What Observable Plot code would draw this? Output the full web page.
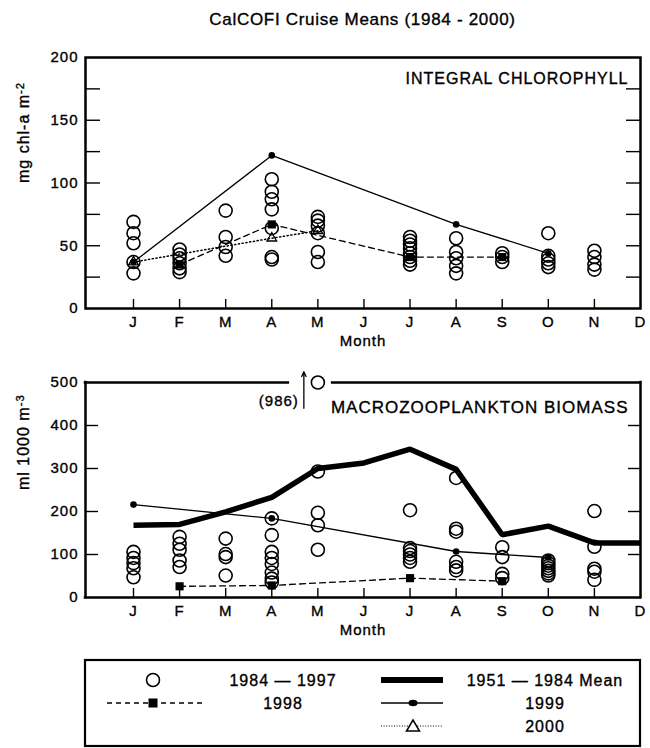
<!DOCTYPE html>
<html>
<head>
<meta charset="utf-8">
<script src="https://cdn.jsdelivr.net/npm/d3@7"></script>
<script src="https://cdn.jsdelivr.net/npm/@observablehq/plot@0.6"></script>
<style>
  body { margin: 0; background: #fff; }
  #page { position: relative; width: 650px; height: 748px; overflow: hidden; background: #fff;
          font-family: "Liberation Sans", Arial, Helvetica, sans-serif; color: #000; }
  #chl, #zoo, #legend { position: absolute; left: 0; }
  #chl { top: 0; }
  #zoo { top: 350px; }
  #legend { top: 640px; }
  #title { position: absolute; left: 85px; width: 555px; top: 10px; line-height: 20px;
           text-align: center; font-size: 17px; letter-spacing: 0.7px; z-index: 2;
           -webkit-text-stroke: 0.35px #000; }
  #page svg text { stroke: #000; stroke-width: 0.35px; }
</style>
</head>
<body>
<div id="page">
  <div id="chl"></div>
  <div id="zoo"></div>
  <div id="legend"></div>
  <div id="title">CalCOFI Cruise Means (1984 - 2000)</div>
</div>
<script>
// ---- month axis ----
const monthLetters = ["J", "F", "M", "A", "M", "J", "J", "A", "S", "O", "N", "D"];
const monthNumbers = d3.range(1, 13);

// ---- integral chlorophyll (mg chl-a m-2) ----
const chlCruiseMonths = [1, 2, 3, 4, 5, 7, 8, 9, 10, 11];
const chl1984to1997 = [
  [69, 60, 52, 37, 28],
  [47, 43, 40, 36, 32, 29],
  [78, 57, 49, 42],
  [103, 93, 87, 79, 64, 41, 39],
  [73, 70, 66, 60, 45, 37],
  [57, 54, 51, 48, 44, 41, 38, 35],
  [56, 45, 40, 34, 28],
  [44, 41, 37],
  [60, 42, 39, 36, 33],
  [46, 41, 35, 31]
];
const chl1998Months = [2, 4, 7, 9];
const chl1998 = [35, 67, 41, 41];
const chl1999Months = [1, 4, 8, 10];
const chl1999 = [37, 122, 67, 44];
const chl2000Months = [1, 4, 5];
const chl2000 = [37, 56, 62];

// ---- macrozooplankton biomass (ml 1000 m-3) ----
const zooCruiseMonths = [1, 2, 3, 4, 5, 7, 8, 9, 10, 11];
const zoo1984to1997 = [
  [106, 92, 80, 68, 47],
  [141, 125, 111, 86, 71],
  [137, 101, 94, 51],
  [184, 145, 106, 92, 78, 58, 44, 35],
  [986, 293, 197, 168, 111],
  [203, 115, 108, 100, 92, 83],
  [278, 160, 153, 83, 71, 63],
  [117, 94, 55, 45],
  [86, 80, 74, 68, 62, 56, 51],
  [201, 118, 67, 60, 41]
];
const zooMean1951to1984 = [168, 170, 199, 233, 300, 313, 345, 298, 146, 166, 127, 127];
const zoo1998Months = [2, 4, 7, 9];
const zoo1998 = [26, 28, 45, 38];
const zoo1999Months = [1, 4, 8, 10];
const zoo1999 = [216, 184, 107, 93];

// ---- axis text ----
const chlTicks = [0, 50, 100, 150, 200];
const zooTicks = [0, 100, 200, 300, 400, 500];
const chlUnits = ["mg chl-a m", "-2"];
const zooUnits = ["ml 1000 m", "-3"];

// ---- helpers ----
const FONT = '"Liberation Sans", Arial, Helvetica, sans-serif';
const pairs = (ms, vs) => ms.map((m, i) => ({month: m, value: vs[i]}));
const cloud = (ms, vss) => ms.flatMap((m, i) => vss[i].map(v => ({month: m, value: v})));
const xDomain = [-0.0414, 12];

function superscript(svg, parts) {
  d3.select(svg).selectAll("text")
    .filter(function () { return this.textContent === parts[0] + parts[1]; })
    .each(function () {
      const t = d3.select(this);
      t.text(parts[0]);
      t.append("tspan").attr("dy", "-0.45em").attr("font-size", "0.7em").text(parts[1]);
    });
}

// marks shared by both panels: month ticks/labels, value ticks/labels, titles
function axisMarks(yTicks, innerTicks, units, innerTickLen) {
  return [
    Plot.axisY({ticks: yTicks, tickSize: 0, tickPadding: 7, fontSize: 15, label: null}),
    Plot.axisY({anchor: "left", ticks: innerTicks, tickSize: innerTickLen, dx: innerTickLen,
                fill: "none", strokeWidth: 1.4, label: null}),
    Plot.axisY({anchor: "right", ticks: innerTicks, tickSize: innerTickLen, dx: -innerTickLen,
                fill: "none", strokeWidth: 1.4, label: null}),
    Plot.axisX({ticks: d3.range(1, 12), tickSize: 9, dy: -9, fill: "none", strokeWidth: 1.4, label: null}),
    Plot.axisX({ticks: monthNumbers, tickFormat: m => monthLetters[m - 1], tickSize: 0,
                tickPadding: 8, fontSize: 15, label: null}),
    Plot.text(["Month"], {frameAnchor: "bottom", dy: 37, fontSize: 15}),
    Plot.text([units[0] + units[1]], {frameAnchor: "left", dx: -62, rotate: -90, fontSize: 16})
  ];
}

// ---- top panel: integral chlorophyll ----
const chlCircles = cloud(chlCruiseMonths, chl1984to1997);
const chlA = pairs(chl1998Months, chl1998);
const chlB = pairs(chl1999Months, chl1999);
const chlC = pairs(chl2000Months, chl2000);

const chlPlot = Plot.plot({
  width: 650, height: 350,
  marginLeft: 85, marginRight: 10, marginTop: 57, marginBottom: 42,
  x: {domain: xDomain},
  y: {domain: [0, 200]},
  style: {fontFamily: FONT, fontSize: "15px", color: "black", letterSpacing: "1px", background: "transparent"},
  marks: [
    ...axisMarks(chlTicks, d3.range(25, 200, 25), chlUnits, 15),
    Plot.line(chlC, {x: "month", y: "value", stroke: "black", strokeWidth: 1.5, strokeDasharray: "1.2,2.6"}),
    Plot.line(chlA, {x: "month", y: "value", stroke: "black", strokeWidth: 1.3, strokeDasharray: "6,4"}),
    Plot.line(chlB, {x: "month", y: "value", stroke: "black", strokeWidth: 1.3}),
    Plot.dot(chlCircles, {x: "month", y: "value", r: 6.5, stroke: "black", strokeWidth: 1.6, fill: "none"}),
    Plot.dot(chlC, {x: "month", y: "value", symbol: "triangle", r: 3.6, stroke: "black", strokeWidth: 1.3, fill: "none"}),
    Plot.dot(chlA, {x: "month", y: "value", symbol: "square", r: 4.6, fill: "black", stroke: "none"}),
    Plot.dot(chlB, {x: "month", y: "value", r: 3.3, fill: "black", stroke: "none"}),
    Plot.text(["INTEGRAL CHLOROPHYLL"], {frameAnchor: "top-right", dx: -12, dy: 15, textAnchor: "end",
                                         fontSize: 16, letterSpacing: "0px"}),
    Plot.frame({stroke: "black", strokeWidth: 2.5})
  ]
});
superscript(chlPlot, chlUnits);
document.getElementById("chl").append(chlPlot);

// ---- bottom panel: macrozooplankton biomass ----
const zooTop = 500;
const zooCircles = cloud(zooCruiseMonths, zoo1984to1997);
const zooOff = zooCircles.filter(d => d.value > zooTop);
const zooMean = pairs(monthNumbers, zooMean1951to1984);
const zooA = pairs(zoo1998Months, zoo1998);
const zooB = pairs(zoo1999Months, zoo1999);
// top border is broken around the off-scale cruise
const zooFrameTop = [
  {x1: xDomain[0], x2: zooOff[0].month - 0.64},
  {x1: zooOff[0].month + 0.32, x2: xDomain[1]}
];

const zooPlot = Plot.plot({
  width: 650, height: 290,
  marginLeft: 85, marginRight: 10, marginTop: 32, marginBottom: 43,
  x: {domain: xDomain},
  y: {domain: [0, zooTop]},
  style: {fontFamily: FONT, fontSize: "15px", color: "black", letterSpacing: "1px", background: "transparent"},
  marks: [
    ...axisMarks(zooTicks, [100, 200, 300, 400], zooUnits, 13),
    Plot.line(zooMean, {x: "month", y: "value", stroke: "black", strokeWidth: 5.5,
                        strokeLinecap: "butt", strokeLinejoin: "miter"}),
    Plot.line(zooA, {x: "month", y: "value", stroke: "black", strokeWidth: 1.3, strokeDasharray: "6,4"}),
    Plot.line(zooB, {x: "month", y: "value", stroke: "black", strokeWidth: 1.3}),
    Plot.dot(zooCircles, {x: "month", y: d => Math.min(d.value, zooTop), r: 6.5, stroke: "black",
                          strokeWidth: 1.6, fill: "none"}),
    Plot.dot(zooA, {x: "month", y: "value", symbol: "square", r: 4.6, fill: "black", stroke: "none"}),
    Plot.dot(zooB, {x: "month", y: "value", r: 3.3, fill: "black", stroke: "none"}),
    // off-scale marker: arrow and its true value
    Plot.arrow(zooOff, {x1: "month", x2: "month", y1: zooTop - 60, y2: zooTop + 25, dx: -14,
                        stroke: "black", strokeWidth: 1.3, headLength: 6, headAngle: 50}),
    Plot.text(zooOff, {x: "month", y: zooTop, text: d => `(${d.value})`, dx: -19, dy: 19,
                       textAnchor: "end", fontSize: 15}),
    Plot.text(["MACROZOOPLANKTON BIOMASS"], {frameAnchor: "top-right", dx: -12, dy: 18, textAnchor: "end", fontSize: 17}),
    Plot.ruleX(xDomain, {stroke: "black", strokeWidth: 2.5, strokeLinecap: "square"}),
    Plot.ruleY([0], {stroke: "black", strokeWidth: 2.5, strokeLinecap: "square"}),
    Plot.ruleY(zooFrameTop, {y: () => zooTop, x1: "x1", x2: "x2", stroke: "black", strokeWidth: 2.5, strokeLinecap: "square"})
  ]
});
superscript(zooPlot, zooUnits);
document.getElementById("zoo").append(zooPlot);

// ---- legend ----
const lg = d3.select("#legend").append("svg")
  .attr("width", 650).attr("height", 108)
  .style("font-family", FONT).style("font-size", "16px").style("letter-spacing", "1px");
lg.append("rect").attr("x", 85).attr("y", 20).attr("width", 555).attr("height", 86)
  .attr("fill", "none").attr("stroke", "black").attr("stroke-width", 2.2);
const rowY = [40, 63, 86];
const label = (x, y, s) => lg.append("text").attr("x", x).attr("y", y).attr("dy", "0.35em")
  .attr("text-anchor", "middle").attr("fill", "black").text(s);
// 1984-1997 cruises
lg.append("circle").attr("cx", 153).attr("cy", rowY[0]).attr("r", 6.5)
  .attr("fill", "none").attr("stroke", "black").attr("stroke-width", 1.6);
label(283, rowY[0], "1984 \u2014 1997");
// long-term mean
lg.append("line").attr("x1", 381).attr("x2", 443).attr("y1", rowY[0]).attr("y2", rowY[0])
  .attr("stroke", "black").attr("stroke-width", 6);
label(545, rowY[0], "1951 \u2014 1984 Mean");
// 1998
lg.append("line").attr("x1", 107).attr("x2", 205).attr("y1", rowY[1]).attr("y2", rowY[1])
  .attr("stroke", "black").attr("stroke-width", 1.3).attr("stroke-dasharray", "5,4");
lg.append("rect").attr("x", 148.5).attr("y", rowY[1] - 4.5).attr("width", 9).attr("height", 9).attr("fill", "black");
label(283, rowY[1], "1998");
// 1999
lg.append("line").attr("x1", 381).attr("x2", 443).attr("y1", rowY[1]).attr("y2", rowY[1])
  .attr("stroke", "black").attr("stroke-width", 1.3);
lg.append("ellipse").attr("cx", 413).attr("cy", rowY[1]).attr("rx", 4.5).attr("ry", 3.3).attr("fill", "black");
label(545, rowY[1], "1999");
// 2000
lg.append("line").attr("x1", 381).attr("x2", 443).attr("y1", rowY[2]).attr("y2", rowY[2])
  .attr("stroke", "black").attr("stroke-width", 1.2).attr("stroke-dasharray", "1,1.6");
lg.append("path").attr("d", `M413,${rowY[2] - 6}L419.5,${rowY[2] + 5}L406.5,${rowY[2] + 5}Z`)
  .attr("fill", "white").attr("stroke", "black").attr("stroke-width", 1.5);
label(545, rowY[2], "2000");
</script>
</body>
</html>
